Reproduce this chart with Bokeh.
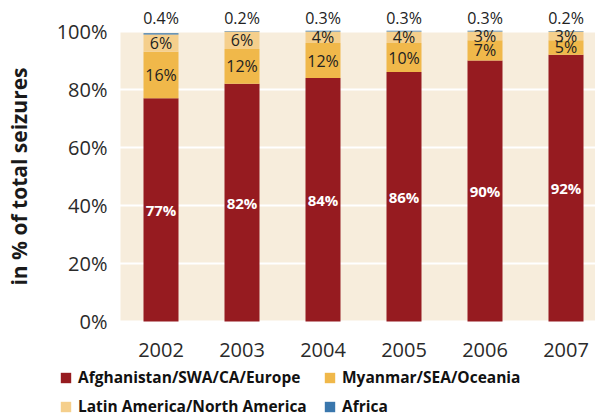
import math
from bokeh.plotting import figure
from bokeh.models import (ColumnDataSource, LabelSet, Legend, LegendItem,
                          FixedTicker, Range1d)
from bokeh.core.properties import value
from bokeh.embed import file_html
from bokeh.resources import INLINE

# ---- data ----
years = ["2002", "2003", "2004", "2005", "2006", "2007"]
afghanistan = [77, 82, 84, 86, 90, 92]
myanmar = [16, 12, 12, 10, 7, 5]
latin_america = [6, 6, 4, 4, 3, 3]
africa = [0.4, 0.2, 0.3, 0.3, 0.3, 0.2]
series_names = ["Afghanistan/SWA/CA/Europe", "Myanmar/SEA/Oceania",
                "Latin America/North America", "Africa"]
y_ticks = [0, 20, 40, 60, 80, 100]

colors = ["#961B20", "#F0B84A", "#F5CF8C", "#3A77AD"]
BEIGE = "#F7EDDC"
FONT = "Open Sans"
stackers = ["afg", "mya", "lat", "afr"]

# ---- layout geometry (pixels) ----
W, H = 595, 417
PX_PER_CAT = 81.0          # horizontal distance between bars
PX_PER_PCT = 2.9           # vertical pixels per percentage point
X0_PX = 160.5              # x pixel of first bar centre
Y0_PX = 321.0              # y pixel of 0 % (from top)
x_start = -X0_PX / PX_PER_CAT
x_end = (W - X0_PX) / PX_PER_CAT
y_end = Y0_PX / PX_PER_PCT
y_start = -(H - Y0_PX) / PX_PER_PCT
plot_left = -0.5           # left edge of the shaded plotting area (data units)

xs = list(range(len(years)))
src = ColumnDataSource(dict(x=xs, afg=afghanistan, mya=myanmar,
                            lat=latin_america, afr=africa))

p = figure(width=W, height=H, output_backend="svg", toolbar_location=None,
           x_range=Range1d(x_start, x_end), y_range=Range1d(y_start, y_end),
           min_border=0, min_border_left=0, min_border_right=0,
           min_border_top=0, min_border_bottom=0)
p.outline_line_color = None
p.background_fill_color = "white"
p.border_fill_color = "white"

# shaded plotting area
p.quad(left=[plot_left], right=[x_end], bottom=[y_ticks[0]], top=[y_ticks[-1]],
       fill_color=BEIGE, line_color=None, level="image")

renderers = p.vbar_stack(stackers, x="x", width=35 / 81,
                         color=colors, line_color=None, source=src)

# grid
p.xgrid.visible = False
p.ygrid.ticker = FixedTicker(ticks=y_ticks)
p.ygrid.grid_line_color = "white"
p.ygrid.grid_line_width = 2

# axes, fixed inside the frame
yax = p.yaxis[0]
xax = p.xaxis[0]
yax.fixed_location = plot_left
xax.fixed_location = 0
yax.ticker = FixedTicker(ticks=y_ticks)
yax.major_label_overrides = {t: f"{t}%" for t in y_ticks}
xax.ticker = FixedTicker(ticks=xs)
xax.major_label_overrides = {i: y for i, y in enumerate(years)}
for ax in (xax, yax):
    ax.axis_line_color = None
    ax.major_tick_line_color = None
    ax.minor_tick_line_color = None
    ax.major_tick_out = 0
    ax.major_tick_in = 0
    ax.major_label_text_font = FONT
    ax.major_label_text_font_size = "20px"
    ax.major_label_text_color = "#2a2a2a"
yax.major_label_standoff = 13
xax.major_label_standoff = 21

# y-axis title
title_x = (18 - X0_PX) / PX_PER_CAT
p.text(x=[title_x], y=[(y_ticks[0] + y_ticks[-1]) / 2],
       text=["in % of total seizures"], angle=math.pi / 2,
       text_align="center", text_baseline="middle",
       text_font=value(FONT), text_font_style="bold",
       text_font_size="21px", text_color="#1a1a1a")

# segment labels
mid_afg = [a / 2 for a in afghanistan]
mid_mya = [a + m / 2 for a, m in zip(afghanistan, myanmar)]
mid_lat = [a + m + l / 2 for a, m, l in zip(afghanistan, myanmar, latin_america)]
lab = ColumnDataSource(dict(
    x=xs,
    y_afg=mid_afg, t_afg=[f"{v}%" for v in afghanistan],
    y_mya=mid_mya, t_mya=[f"{v}%" for v in myanmar],
    y_lat=mid_lat, t_lat=[f"{v}%" for v in latin_america],
    y_afr=[y_ticks[-1]] * len(xs), t_afr=[f"{v}%" for v in africa],
))

p.add_layout(LabelSet(x="x", y="y_afg", text="t_afg", source=lab,
                      text_align="center", text_baseline="middle",
                      text_font=value(FONT), text_font_style="bold",
                      text_font_size="15px", text_color="white"))
for yk, tk in (("y_mya", "t_mya"), ("y_lat", "t_lat")):
    p.add_layout(LabelSet(x="x", y=yk, text=tk, source=lab,
                          text_align="center", text_baseline="middle",
                          text_font=value(FONT), text_font_size="16px",
                          text_color="#222222"))
p.add_layout(LabelSet(x="x", y="y_afr", text="t_afr", source=lab,
                      y_offset=3,
                      text_align="center", text_baseline="bottom",
                      text_font=value(FONT), text_font_size="16px",
                      text_color="#222222"))

# legend
items = [LegendItem(label=n, renderers=[r]) for n, r in zip(series_names, renderers)]
legend = Legend(items=items, orientation="horizontal", ncols=2,
                location=(59, 0), padding=0, margin=0, spacing=7,
                glyph_width=13, glyph_height=13, label_standoff=6,
                label_height=18, label_width=238,
                label_text_font=FONT, label_text_font_style="bold",
                label_text_font_size="15.5px", label_text_color="#111111",
                border_line_color=None, background_fill_alpha=0)
p.add_layout(legend, "center")

open("out.html", "w").write(file_html(p, INLINE))
